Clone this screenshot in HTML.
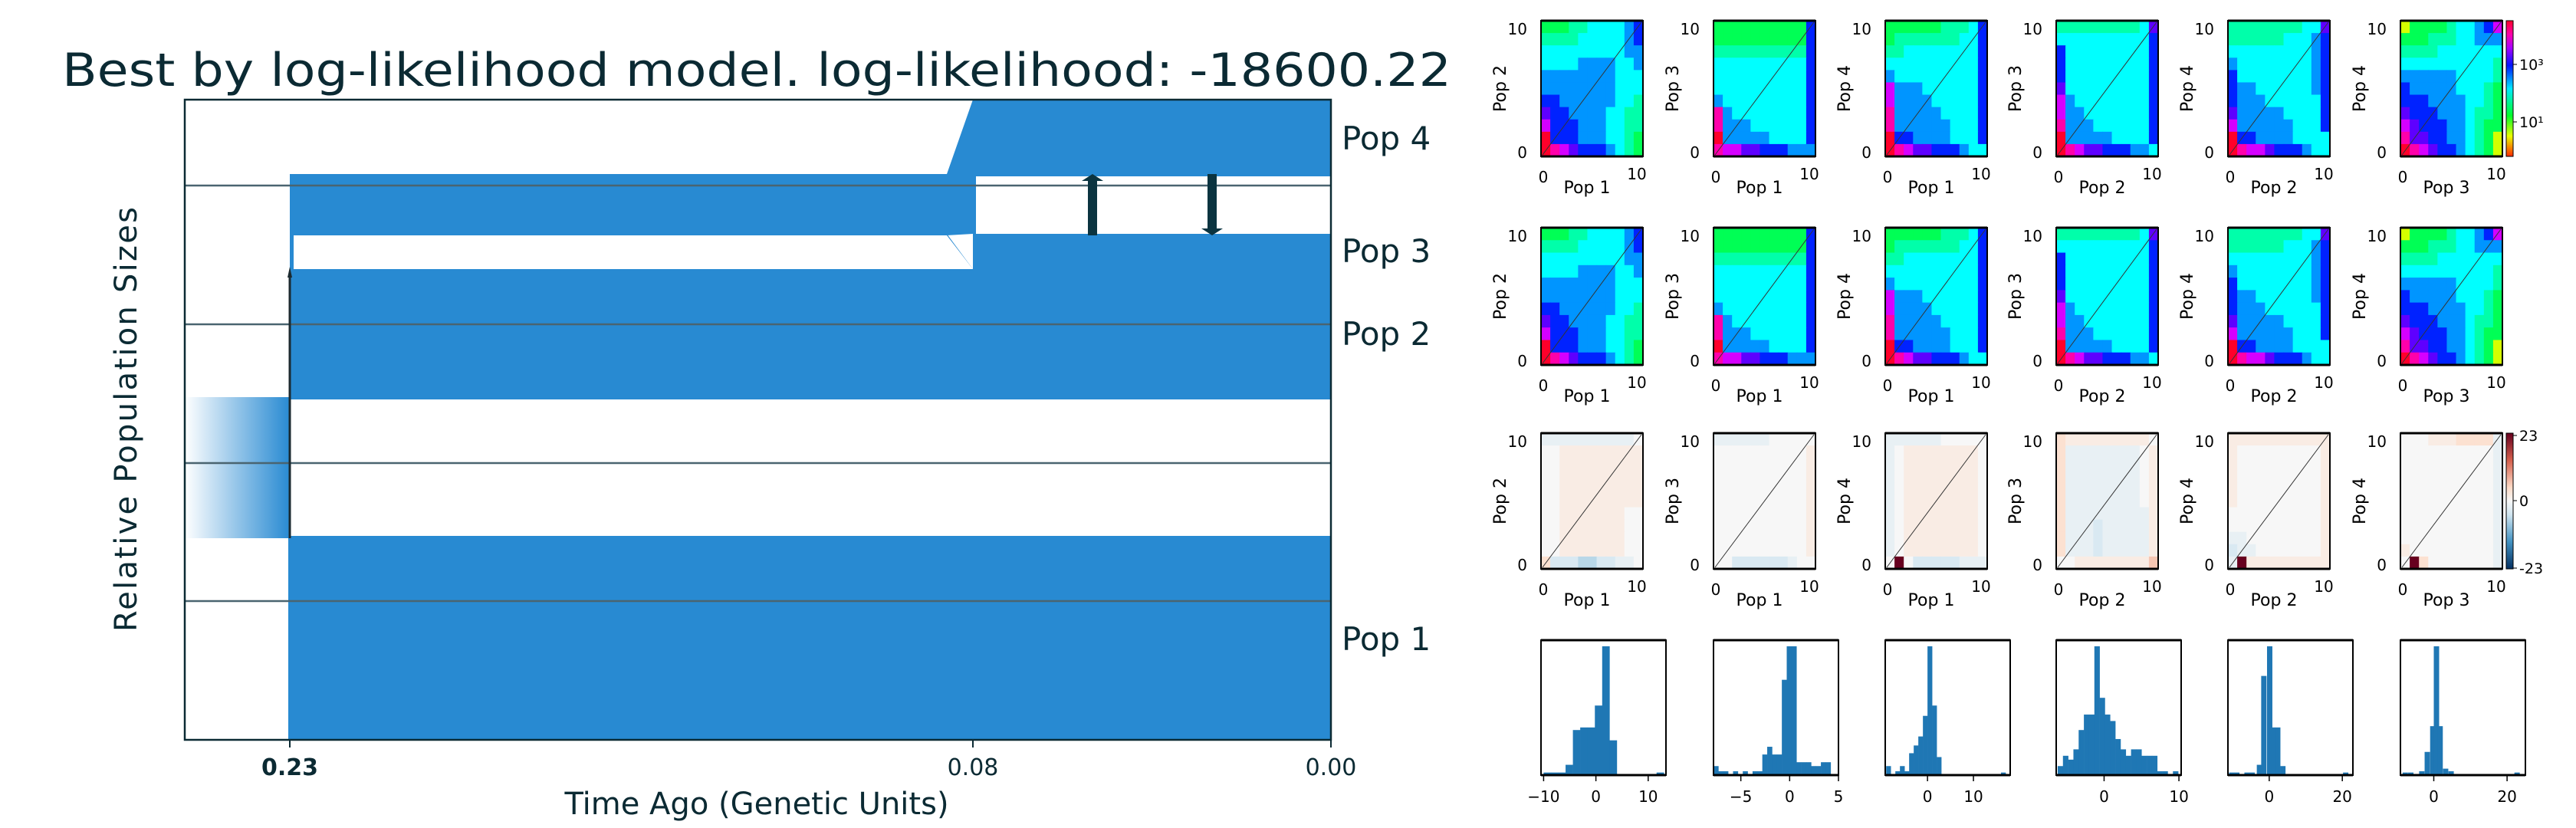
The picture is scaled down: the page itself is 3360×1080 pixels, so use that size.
<!DOCTYPE html>
<html><head><meta charset="utf-8"><style>
html,body{margin:0;padding:0;background:#fff}
svg{display:block}
text{font-family:"DejaVu Sans","Liberation Sans",sans-serif}
</style></head><body>
<svg id="root" width="3360" height="1080" viewBox="0 0 3360 1080" xmlns="http://www.w3.org/2000/svg">
<defs>
<linearGradient id="anc" x1="0" x2="1" y1="0" y2="0"><stop offset="0" stop-color="#fff"/><stop offset="1" stop-color="#288ad2"/></linearGradient>
<linearGradient id="cb1" x1="0" x2="0" y1="0" y2="1">
<stop offset="0" stop-color="hsl(350,100%,50%)"/><stop offset="0.1" stop-color="hsl(320,100%,50%)"/><stop offset="0.2" stop-color="hsl(280,100%,50%)"/><stop offset="0.33" stop-color="hsl(235,100%,50%)"/><stop offset="0.5" stop-color="hsl(185,100%,50%)"/><stop offset="0.7" stop-color="hsl(130,100%,50%)"/><stop offset="0.85" stop-color="hsl(65,100%,50%)"/><stop offset="1" stop-color="hsl(10,100%,50%)"/></linearGradient>
<linearGradient id="cb2" x1="0" x2="0" y1="0" y2="1">
<stop offset="0" stop-color="#67001f"/><stop offset="0.2" stop-color="#d6604d"/><stop offset="0.4" stop-color="#fddbc7"/><stop offset="0.5" stop-color="#f7f7f7"/><stop offset="0.6" stop-color="#d1e5f0"/><stop offset="0.8" stop-color="#4393c3"/><stop offset="1" stop-color="#053061"/></linearGradient>
</defs>
<g id="left">
<text x="987" y="112" font-size="60" fill="#0b2a33" text-anchor="middle" textLength="1812" lengthAdjust="spacingAndGlyphs">Best by log-likelihood model. log-likelihood: -18600.22</text>
</g>
<g id="right"></g>
</svg>
<script>
// ---- left demography data ----
const timeTicks = [0.23, 0.08, 0.00];
const tickPx = [378, 1269, 1736]; // axis layout for the custom time scale
const popNames = ["Pop 4","Pop 3","Pop 2","Pop 1"];
// ---- heatmap data: digit = log-count level 0 (low) .. 9 (high), rows top(10) -> bottom(0)
const pairX = ["Pop 1","Pop 1","Pop 1","Pop 2","Pop 2","Pop 3"];
const pairY = ["Pop 2","Pop 3","Pop 4","Pop 3","Pop 4","Pop 4"];
const sfs1 = ["11122333345","22223333345","33333333344","33334444334","44444444333","44444444333","55444444332","65544443322","75554443322","95554443321","98765554321"];
const sfs2 = ["11111111115","11111111115","22222222225","33333333335","33333333335","33333333335","43333333335","84333333335","84443333335","94444433335","87766555444"];
const sfs3 = ["11111122235","12222222335","22333333335","33333333335","43333333335","74443333335","74444333335","84444433335","84444443335","95544443335","98766555433"];
const sfs4 = ["22222222236","33333333335","53333333335","53333333335","53333333335","63333333335","74333333335","74433333335","84443333335","94444433335","98766555443"];
const sfs5 = ["22222222336","22222233345","33333333345","43333333345","53333333345","54433333345","54443333335","64444433335","74444443335","95544443333","98776555433"];
const sfs6 = ["01111233457","11122233444","22223333333","33333333332","44444433332","54444433321","55544443321","65554443221","76555443211","86655443210","98765543210"];
// residuals: digit d -> (d-5)*3, 'R' -> 23
const res1 = ["44444444445","55666666666","55666666666","55666666666","55666666666","55666666666","55666666655","55666666655","55666666655","55666666655","73332233445"];
const res2 = ["44444455555","55555555556","55555555556","55555555556","55555555556","55555555556","55555555556","55555555556","55555555556","55555555556","55333333455"];
const res3 = ["44444455555","45666666665","45666666665","45666666665","45666666665","45666666665","45666666665","45666666665","45666666665","45666666665","5R533333444"];
const res4 = ["76666666665","74444444456","74444444456","74444444456","74444444456","74444444456","74444444446","74443444446","74443444446","74443444446","55666666668"];
const res5 = ["66666666666","65555555556","65555555556","65555555556","65555555556","65555555556","55555555556","55555555556","44555555556","34455555556","4R666666666"];
const res6 = ["55566677774","55555555554","55555555554","55555555554","55555555554","55555555554","55555555554","55555555554","55555555554","65555555554","5R755555554"];
// ---- histogram data ----
const histDomains = [[-10.5,13.4],[-7.8,5.0],[-9.2,18],[-6.4,10.3],[-11.3,22.9],[-9.1,25]];
const histTicks = [[-10,0,10],[-5,0,5],[0,10],[0,10],[0,20],[0,20]];
const hist1Starts = [-10,-8.6,-7.2,-5.8,-4.4,-3,-1.6,-0.2,1.2,2.6,11.6];
const hist1Heights = [0.02,0.02,0.02,0.08,0.35,0.37,0.37,0.54,1.0,0.27,0.02];
const hist2Starts = [-7.8,-7.3,-6.8,-5.8,-4.8,-3.8,-3.3,-2.8,-2.3,-1.8,-1.3,-0.8,-0.3,0.2,0.7,1.2,1.7,2.2,2.7,3.2,3.7];
const hist2Heights = [0.07,0.03,0.03,0.03,0.03,0.03,0.03,0.16,0.22,0.16,0.16,0.74,1.0,1.0,0.1,0.1,0.1,0.07,0.07,0.1,0.1];
const hist3Starts = [-9,-7,-6,-5,-4,-3,-2,-1,0,1,2,16];
const hist3Heights = [0.07,0.03,0.07,0.03,0.17,0.23,0.3,0.46,1.0,0.54,0.14,0.02];
const hist4Starts = [-6.2,-5.5,-4.8,-4.1,-3.4,-2.7,-2.0,-1.3,-0.6,0.1,0.8,1.5,2.2,2.9,3.6,4.3,5.0,5.7,6.4,7.1,7.8,9.2];
const hist4Heights = [0.07,0.15,0.12,0.2,0.35,0.47,0.47,1.0,0.6,0.47,0.42,0.28,0.2,0.15,0.2,0.2,0.15,0.15,0.15,0.03,0.03,0.03];
const hist5Starts = [-11,-9.6,-6.8,-5.4,-3.4,-2.2,-0.6,0.2,1.6,3.0,20.2];
const hist5Heights = [0.02,0.02,0.02,0.02,0.08,0.77,1.0,0.37,0.37,0.07,0.02];
const hist6Starts = [-8.5,-7,-4,-2.5,-1,0,1,2.5,4,22];
const hist6Heights = [0.02,0.02,0.03,0.18,0.38,1.0,0.38,0.05,0.03,0.02];
const hist1Width=1.4, hist2Width=0.5, hist3Width=1.0, hist4Width=0.7, hist5Width=1.4, hist6Width=1.4;

const NS="http://www.w3.org/2000/svg";
function mk(parent, tag, attrs, text){const e=document.createElementNS(NS,tag);for(const k in attrs)e.setAttribute(k,attrs[k]);if(text!==undefined)e.textContent=text;parent.appendChild(e);return e;}
const L=document.getElementById('left'), R=document.getElementById('right');
const BLUE="#288ad2", DARK="#0b3440";
// time scale (piecewise through tick anchors)
function tx(t){for(let i=0;i<timeTicks.length-1;i++){const a=timeTicks[i],b=timeTicks[i+1];if(t<=a&&t>=b){return tickPx[i]+(a-t)/(a-b)*(tickPx[i+1]-tickPx[i]);}}return t>timeTicks[0]?tickPx[0]:tickPx[tickPx.length-1];}
const xs=tx(timeTicks[0]), xm=tx(timeTicks[1]), xe=tx(timeTicks[2]);
let e;
// ancestral gradient
e=mk(L,'rect',{x:241,y:518,width:xs-241,height:184,fill:'url(#anc)'});


// pop1
e=mk(L,'rect',{x:xs-2,y:699,width:xe-xs+2,height:266,fill:BLUE});


// pop2+pop3 block
e=mk(L,'polygon',{points:`${xs},351 ${xm-34},351 ${xm},351 ${xm},305 ${xe},305 ${xe},521 ${xs},521`,fill:BLUE});


e=mk(L,'polygon',{points:`${xs},305 ${xm-34},305 ${xm},351 ${xs},351`,fill:BLUE});


e=mk(L,'polygon',{points:`${xs+5},307 ${xm-34},307 ${xm},351 ${xs+5},351`,fill:'#fff'});


// pop4
e=mk(L,'polygon',{points:`${xs},227 ${xm-34},227 ${xm},130 ${xe},130 ${xe},230 ${xm+4},230 ${xm+4},305 ${xm},305 ${xm-34},307 ${xs},307`,fill:BLUE});


// grid lines
[242,423,604,784].forEach(y=>{e=mk(L,'line',{x1:241,x2:1736,y1:y,y2:y,stroke:'#4a6470','stroke-width':2.5});

});
// split line
e=mk(L,'line',{x1:xs,x2:xs,y1:355,y2:702,stroke:'#1b2a30','stroke-width':3});


mk(L,'polygon',{points:`${xs-3},362 ${xs},348 ${xs+3},362`,fill:'#1b2a30'});
// migration arrows
function arrow(x,y1,y2,name){const g=mk(L,'g',{});
 const dir=y2<y1?-1:1;mk(g,'rect',{x:x-6,y:Math.min(y1,y2)+(dir<0?8:0),width:12,height:Math.abs(y2-y1)-8,fill:DARK});
 mk(g,'polygon',{points:`${x-14},${y2-dir*9} ${x},${y2} ${x+14},${y2-dir*9}`,fill:DARK});}
arrow(1425,307,227,'migration-arrow-up');
arrow(1581,227,307,'migration-arrow-down');
// axes frame
e=mk(L,'rect',{x:241,y:130,width:1736-241,height:835,fill:'none',stroke:'#0b2a33','stroke-width':2.5});


// ticks
timeTicks.forEach((t,i)=>{const x=tx(t);mk(L,'line',{x1:x,x2:x,y1:965,y2:975,stroke:'#0b2a33','stroke-width':2});
 e=mk(L,'text',{x:x,y:1011,'font-size':30,'text-anchor':'middle',fill:'#0b2a33','font-weight':i==0?'bold':'normal'},t.toFixed(2));
 
 });
e=mk(L,'text',{x:987,y:1062,'font-size':40,'text-anchor':'middle',fill:'#0b2a33'},'Time Ago (Genetic Units)');


e=mk(L,'text',{x:0,y:0,'font-size':40,'text-anchor':'middle',fill:'#0b2a33',transform:'translate(178,547) rotate(-90)',textLength:554},'Relative Population Sizes');


const popY=[195,342,450,848];
popNames.forEach((n,i)=>{e=mk(L,'text',{x:1750,y:popY[i],'font-size':42,fill:'#0b2a33'},n);

});

// ---- right panels ----
const boxX=[2010,2235,2459,2682,2906,3131];
const BW=133;
const sfsAll=[sfs1,sfs2,sfs3,sfs4,sfs5,sfs6];
const resAll=[res1,res2,res3,res4,res5,res6];
const hueLv=[70,140,160,180,205,232,262,290,320,350];
function sfsColor(ch){return `hsl(${hueLv[+ch]},100%,50%)`;}
function resVal(ch){return ch==='R'?23:(+ch-5)*3;}
function lerp(a,b,t){return a.map((v,i)=>Math.round(v+(b[i]-v)*t));}
function rdbu(v){const t=Math.max(-1,Math.min(1,v/23));
 const stops=[[5,48,97],[67,147,195],[209,229,240],[247,247,247],[253,219,199],[214,96,77],[103,0,31]];
 const p=(t+1)/2*6;const i=Math.min(5,Math.floor(p));const c=lerp(stops[i],stops[i+1],p-i);return `rgb(${c})`;}
function heat(i,top,bot,rows,colorFn,name){
 const g=mk(R,'g',{});
 const x0=boxX[i],h=bot-top,cw=BW/11,ch=h/11;
 rows.forEach((r,ri)=>{for(let ci=0;ci<11;ci++){mk(g,'rect',{x:x0+ci*cw,y:top+ri*ch,width:cw+0.6,height:ch+0.6,fill:colorFn(r[ci])});}});
 mk(g,'line',{x1:x0+2,y1:bot-2,x2:x0+BW-2,y2:top+2,stroke:'#333','stroke-width':1});
 mk(g,'rect',{x:x0,y:top,width:BW,height:h,fill:'none',stroke:'#000','stroke-width':2});
 mk(g,'line',{x1:x0,x2:x0+BW,y1:top,y2:top,stroke:'#000','stroke-width':3});
 mk(g,'line',{x1:x0,x2:x0+BW,y1:bot,y2:bot,stroke:'#000','stroke-width':3});
 mk(g,'text',{x:x0-18,y:top+18,'font-size':20,'text-anchor':'end'},'10');
 mk(g,'text',{x:x0-18,y:bot+2,'font-size':20,'text-anchor':'end'},'0');
 mk(g,'text',{x:x0+3,y:bot+34,'font-size':20,'text-anchor':'middle'},'0');
 mk(g,'text',{x:x0+BW-8,y:bot+30,'font-size':20,'text-anchor':'middle'},'10');
 mk(g,'text',{x:x0+60,y:bot+48,'font-size':22,'text-anchor':'middle'},pairX[i]);
 mk(g,'text',{x:0,y:0,'font-size':22,'text-anchor':'middle',transform:`translate(${x0-46},${(top+bot)/2}) rotate(-90)`},pairY[i]);
}
for(let i=0;i<6;i++){heat(i,27,204,sfsAll[i],sfsColor,'data-sfs-heatmap');}
for(let i=0;i<6;i++){heat(i,297,476,sfsAll[i],sfsColor,'model-sfs-heatmap');}
for(let i=0;i<6;i++){heat(i,565,742,resAll[i],c=>rdbu(resVal(c)),'residual-heatmap');}
// colorbars
function cbar(top,bot,fill,labels,name){const g=mk(R,'g',{});
 mk(g,'rect',{x:3269,y:top,width:9,height:bot-top,fill:fill,stroke:'#000','stroke-width':1});
 labels.forEach(l=>{mk(g,'line',{x1:3278,x2:3283,y1:l[0],y2:l[0],stroke:'#000'});mk(g,'text',{x:3286,y:l[0]+7,'font-size':19},l[1]);});}
cbar(27,204,'url(#cb1)',[[84,'10³'],[159,'10¹']],'count-colorbar');
cbar(565,742,'url(#cb2)',[[568,'23'],[653,'0'],[741,'-23']],'residual-colorbar');
// histograms
const hs=[[hist1Starts,hist1Heights,hist1Width],[hist2Starts,hist2Heights,hist2Width],[hist3Starts,hist3Heights,hist3Width],[hist4Starts,hist4Heights,hist4Width],[hist5Starts,hist5Heights,hist5Width],[hist6Starts,hist6Heights,hist6Width]];
const hTop=835,hBot=1011,hMax=168,HW=163;
for(let i=0;i<6;i++){
 const g=mk(R,'g',{});
 const [d0,d1]=histDomains[i];const x0=boxX[i];const sx=v=>x0+(v-d0)/(d1-d0)*HW;
 const [st,ht,w]=hs[i];
 st.forEach((s,k)=>{const bh=ht[k]*hMax;const b=mk(g,'rect',{x:sx(s),y:hBot-bh,width:sx(s+w)-sx(s)+0.3,height:bh,fill:'#1f77b4'});
  
  });
 mk(g,'rect',{x:x0,y:hTop,width:HW,height:hBot-hTop,fill:'none',stroke:'#000','stroke-width':2});
 mk(g,'line',{x1:x0,x2:x0+HW,y1:hTop,y2:hTop,stroke:'#000','stroke-width':3});
 mk(g,'line',{x1:x0,x2:x0+HW,y1:hBot,y2:hBot,stroke:'#000','stroke-width':3});
 histTicks[i].forEach(t=>{mk(g,'line',{x1:sx(t),x2:sx(t),y1:hBot,y2:hBot+8,stroke:'#000','stroke-width':1.5});
  mk(g,'text',{x:sx(t),y:hBot+35,'font-size':20,'text-anchor':'middle'},t<0?'−'+(-t):String(t));});
}
</script>
</body></html>
